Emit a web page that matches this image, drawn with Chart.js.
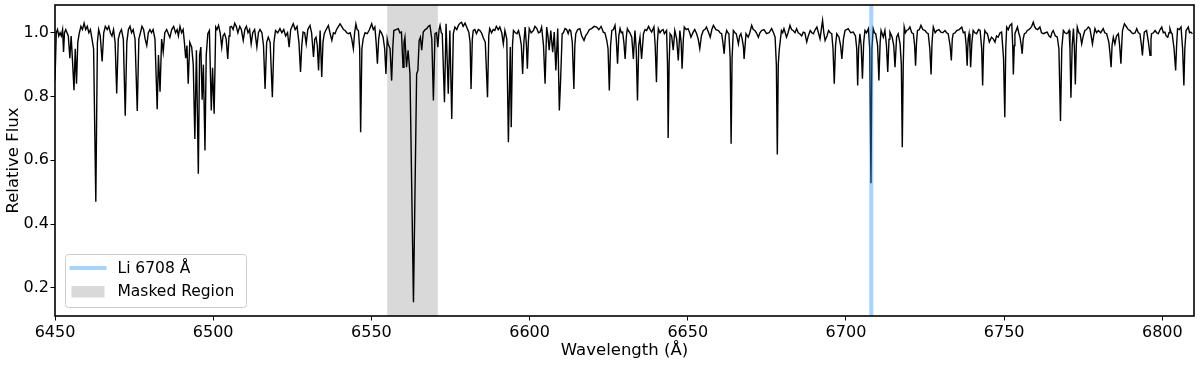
<!DOCTYPE html>
<html>
<head>
<meta charset="utf-8">
<script src="https://cdn.jsdelivr.net/npm/chart.js@4.4.1/dist/chart.umd.min.js"></script>
<style>
  html, body { margin: 0; padding: 0; background: #fff; }
  #spectrum { display: block; }
</style>
</head>
<body>
<canvas id="spectrum" width="1200" height="366"></canvas>
<script>
// [wavelength (Å), relative flux]
const spectrum = [
  [6450.0,0.85],[6450.4,1.00],[6450.8,1.01],[6451.2,0.99],[6451.6,1.00],[6452.0,0.99],[6452.4,1.01],[6452.7,0.94],
  [6453.0,1.00],[6453.4,1.01],[6453.8,1.00],[6454.2,0.99],[6454.7,0.92],[6455.1,0.99],[6455.6,0.90],[6456.0,0.82],
  [6456.4,0.95],[6456.8,0.84],[6457.2,0.97],[6457.7,1.00],[6458.2,1.02],[6458.7,1.01],[6459.2,1.03],[6459.7,1.01],
  [6460.2,1.02],[6460.7,1.00],[6461.2,1.01],[6461.7,0.98],[6462.2,0.95],[6462.9,0.47],[6463.4,0.97],[6463.8,1.01],
  [6464.3,0.99],[6464.9,0.91],[6465.4,1.00],[6465.9,1.02],[6466.5,1.01],[6467.0,1.02],[6467.5,1.00],[6468.0,0.99],
  [6468.5,1.01],[6469.0,0.97],[6469.5,0.81],[6470.0,0.98],[6470.5,1.00],[6471.0,1.01],[6471.6,0.98],[6472.2,0.74],
  [6472.7,0.97],[6473.2,1.01],[6473.7,1.02],[6474.2,1.00],[6474.7,1.01],[6475.3,0.98],[6476.0,0.755],[6476.5,0.98],
  [6477.0,1.00],[6477.5,1.02],[6478.0,1.01],[6478.5,0.98],[6479.0,0.96],[6479.5,1.00],[6480.0,1.01],[6480.5,1.00],
  [6481.0,1.01],[6481.6,0.98],[6482.3,0.76],[6482.7,0.93],[6483.2,0.815],[6483.7,0.98],[6484.2,0.94],[6484.7,1.00],
  [6485.3,1.01],[6485.7,1.00],[6486.3,0.985],[6486.9,1.01],[6487.5,1.02],[6488.1,1.00],[6488.6,1.01],[6489.0,0.99],
  [6489.5,1.02],[6490.0,1.00],[6490.5,1.01],[6490.9,0.97],[6491.3,0.92],[6491.7,0.96],[6492.1,0.84],[6492.6,0.97],
  [6493.2,0.955],[6493.7,0.90],[6494.2,0.667],[6494.7,0.945],[6495.3,0.558],[6495.7,0.93],[6496.1,0.955],[6496.5,0.79],
  [6496.9,0.90],[6497.4,0.631],[6497.8,0.93],[6498.3,0.997],[6498.8,1.007],[6499.4,0.756],[6499.8,0.89],[6500.3,0.746],
  [6500.8,1.018],[6501.2,1.01],[6501.7,1.023],[6502.2,1.00],[6502.7,0.955],[6503.1,0.99],[6503.6,0.997],[6504.1,0.98],
  [6504.6,0.918],[6505.0,0.99],[6505.3,1.018],[6505.8,1.02],[6506.3,1.01],[6506.8,1.03],[6507.3,1.02],[6507.8,1.00],
  [6508.4,1.02],[6508.9,1.01],[6509.5,0.976],[6510.0,1.01],[6510.5,1.02],[6511.0,1.00],[6511.5,1.01],[6512.0,0.965],
  [6512.5,1.00],[6513.1,1.01],[6513.8,0.955],[6514.3,1.00],[6514.8,1.01],[6515.4,1.00],[6515.9,0.96],[6516.4,0.824],
  [6516.9,0.97],[6517.4,0.986],[6518.0,0.97],[6518.7,0.798],[6519.2,0.97],[6519.7,1.007],[6520.4,1.00],[6521.1,1.013],
  [6521.7,1.00],[6522.3,1.01],[6522.9,0.99],[6523.5,1.00],[6524.0,0.955],[6524.5,1.01],[6525.3,1.028],[6525.9,1.01],
  [6526.5,1.02],[6527.1,0.97],[6527.6,0.877],[6528.0,0.96],[6528.4,1.002],[6528.9,1.00],[6529.4,0.965],[6529.9,1.01],
  [6530.6,1.023],[6531.1,1.00],[6531.7,0.924],[6532.1,0.98],[6532.5,0.986],[6532.9,0.96],[6533.3,0.882],[6533.8,1.007],
  [6534.3,0.861],[6534.7,0.97],[6535.1,0.997],[6535.7,1.01],[6536.4,1.023],[6536.9,1.00],[6537.5,0.976],[6538.0,1.00],
  [6538.5,0.997],[6539.0,1.01],[6539.6,1.02],[6540.1,1.028],[6540.6,1.02],[6541.2,1.01],[6541.7,1.007],[6542.2,1.00],
  [6542.7,0.997],[6543.3,1.00],[6543.8,0.98],[6544.3,0.95],[6544.7,1.00],[6545.1,1.028],[6545.5,1.01],[6545.9,1.007],
  [6546.3,0.95],[6546.6,0.688],[6547.0,0.95],[6547.4,0.981],[6548.0,1.00],[6548.7,0.997],[6549.4,1.01],[6550.1,1.028],
  [6550.6,1.01],[6551.1,1.018],[6551.5,0.97],[6551.9,0.903],[6552.3,0.98],[6552.7,1.007],[6553.2,1.00],[6553.7,0.986],
  [6554.2,0.95],[6554.6,0.871],[6555.0,0.98],[6555.3,0.965],[6555.9,0.95],[6556.4,0.85],[6556.8,0.96],[6557.1,1.007],
  [6557.8,1.01],[6558.5,1.013],[6559.0,1.00],[6559.5,1.002],[6560.0,0.892],[6560.3,0.97],[6560.6,0.986],[6561.1,0.892],
  [6561.6,0.945],[6562.2,0.871],[6563.3,0.155],[6564.3,0.871],[6564.7,0.882],[6565.1,0.976],[6565.5,0.986],[6565.9,0.945],
  [6566.4,1.002],[6567.0,1.01],[6567.5,1.013],[6568.0,1.02],[6568.5,1.023],[6569.1,0.98],[6569.6,0.788],[6570.1,0.997],
  [6570.6,1.00],[6571.0,0.955],[6571.4,1.01],[6571.7,1.023],[6572.1,1.00],[6572.4,0.997],[6573.1,0.782],[6573.6,1.028],
  [6574.3,0.809],[6574.8,1.007],[6575.4,0.73],[6575.9,0.997],[6576.4,1.018],[6577.0,1.01],[6577.5,1.023],[6578.0,1.03],
  [6578.5,1.033],[6579.0,1.02],[6579.6,1.03],[6580.1,1.018],[6580.8,1.002],[6581.2,0.97],[6581.5,0.824],[6581.9,0.98],
  [6582.2,1.007],[6582.7,1.01],[6583.2,0.997],[6583.8,1.01],[6584.3,1.007],[6584.8,1.00],[6585.3,0.986],[6586.0,0.97],
  [6586.7,0.798],[6587.1,0.99],[6587.4,1.013],[6588.0,1.00],[6588.5,1.01],[6589.0,1.007],[6589.5,1.02],[6590.1,1.01],
  [6590.6,1.018],[6591.2,1.00],[6591.7,0.965],[6592.2,1.007],[6592.8,0.98],[6593.3,0.657],[6593.9,0.955],[6594.2,0.704],
  [6594.6,0.96],[6594.9,1.007],[6595.5,1.00],[6596.0,0.997],[6596.5,1.007],[6597.0,0.986],[6597.4,0.96],[6597.8,0.871],
  [6598.2,0.97],[6598.6,1.018],[6599.0,0.96],[6599.3,0.887],[6599.6,0.97],[6599.9,1.013],[6600.5,1.00],[6601.2,1.007],
  [6601.7,1.02],[6602.3,1.013],[6602.8,1.00],[6603.3,1.002],[6603.8,1.018],[6604.4,0.96],[6604.9,0.84],[6605.4,1.018],
  [6605.8,0.99],[6606.2,0.945],[6606.7,1.007],[6607.3,0.939],[6607.8,1.002],[6608.3,0.882],[6608.9,1.013],[6609.4,0.756],
  [6609.8,0.85],[6610.3,0.997],[6610.7,1.00],[6611.2,1.013],[6611.7,1.01],[6612.2,0.997],[6612.6,1.01],[6613.0,1.007],
  [6613.5,0.97],[6614.0,0.824],[6614.3,0.96],[6614.6,0.997],[6615.2,1.01],[6615.9,1.013],[6616.5,0.99],[6617.2,0.976],
  [6617.7,0.99],[6618.2,0.997],[6618.9,1.01],[6619.6,1.013],[6620.4,1.02],[6621.2,1.018],[6621.9,1.01],[6622.6,1.02],
  [6623.3,1.002],[6623.8,1.00],[6624.4,0.976],[6624.8,0.95],[6625.2,0.819],[6625.6,0.96],[6626.0,1.007],[6626.5,1.01],
  [6627.0,1.023],[6627.4,0.98],[6627.8,0.903],[6628.2,0.99],[6628.6,1.013],[6629.0,1.00],[6629.4,1.002],[6629.8,0.97],
  [6630.2,0.918],[6630.6,0.99],[6630.9,1.013],[6631.2,1.007],[6631.7,1.00],[6632.3,0.986],[6632.8,0.918],[6633.3,1.007],
  [6633.7,0.95],[6634.1,0.788],[6634.5,0.96],[6634.9,0.986],[6635.4,0.918],[6636.0,0.997],[6636.5,1.01],[6637.0,1.007],
  [6637.6,1.02],[6638.1,1.01],[6638.6,1.002],[6639.3,1.018],[6639.7,0.96],[6640.1,0.845],[6640.4,0.97],[6640.7,1.013],
  [6641.2,1.00],[6641.7,1.007],[6642.2,1.01],[6642.6,0.997],[6643.3,1.007],[6643.6,0.90],[6643.8,0.67],[6644.1,0.90],
  [6644.4,0.997],[6644.9,0.99],[6645.4,0.945],[6645.9,1.007],[6646.5,0.98],[6647.0,0.913],[6647.5,1.007],[6647.9,0.97],
  [6648.2,0.887],[6648.6,0.98],[6648.9,1.018],[6649.5,1.01],[6650.1,1.013],[6650.6,1.00],[6651.0,0.986],[6651.7,1.002],
  [6652.2,1.01],[6652.8,0.997],[6653.3,0.98],[6653.8,0.95],[6654.3,0.99],[6654.9,1.007],[6655.4,1.01],[6655.9,1.018],
  [6656.6,1.00],[6657.1,0.986],[6657.6,1.01],[6658.1,1.023],[6658.9,1.01],[6659.7,1.007],[6660.2,1.00],[6660.7,0.997],
  [6661.1,0.97],[6661.5,0.934],[6661.9,0.99],[6662.3,1.007],[6662.7,1.00],[6663.0,0.997],[6663.4,0.92],[6663.7,0.652],
  [6664.0,0.92],[6664.4,1.007],[6664.9,1.00],[6665.3,0.997],[6665.7,0.98],[6666.0,0.965],[6666.4,0.99],[6666.8,0.997],
  [6667.2,0.98],[6667.6,0.955],[6667.8,0.918],[6668.4,0.997],[6669.1,0.986],[6669.6,1.00],[6670.2,1.023],[6670.7,1.01],
  [6671.2,1.007],[6671.7,1.00],[6672.3,0.986],[6672.8,1.00],[6673.3,1.007],[6674.1,1.01],[6674.9,0.997],[6675.7,1.00],
  [6676.5,1.013],[6677.1,1.00],[6677.6,0.986],[6678.0,0.90],[6678.3,0.618],[6678.6,0.90],[6678.9,0.945],[6679.6,1.007],
  [6680.0,1.00],[6680.4,1.013],[6680.8,1.00],[6681.2,0.986],[6681.7,1.00],[6682.3,1.023],[6682.8,1.01],[6683.3,1.007],
  [6683.9,1.00],[6684.4,1.013],[6684.9,1.00],[6685.4,0.997],[6686.0,0.99],[6686.5,1.002],[6687.0,1.00],[6687.6,0.971],
  [6688.1,0.99],[6688.7,1.007],[6689.2,1.00],[6689.7,0.997],[6690.3,1.01],[6690.8,1.018],[6691.3,1.00],[6691.8,0.981],
  [6692.2,1.01],[6692.6,1.039],[6693.0,1.00],[6693.4,0.976],[6694.0,0.99],[6694.5,1.007],[6695.0,1.00],[6695.5,0.997],
  [6695.9,0.95],[6696.3,0.84],[6696.7,0.96],[6697.1,0.997],[6697.8,0.986],[6698.3,0.96],[6698.7,0.918],[6699.2,0.98],
  [6699.7,1.007],[6700.2,1.01],[6700.7,1.013],[6701.5,1.00],[6702.3,1.002],[6703.0,0.99],[6703.4,0.95],[6703.7,0.835],
  [6704.0,0.95],[6704.4,0.997],[6704.8,0.96],[6705.2,0.856],[6705.6,0.97],[6706.0,1.007],[6706.5,1.00],[6707.1,1.013],
  [6707.5,0.95],[6707.9,0.528],[6708.2,0.95],[6708.6,1.013],[6709.0,1.00],[6709.4,0.997],[6710.0,0.96],[6710.4,0.85],
  [6710.8,0.97],[6711.1,1.007],[6711.8,0.986],[6712.3,1.007],[6712.8,0.96],[6713.2,0.877],[6713.6,0.98],[6713.9,1.002],
  [6714.6,0.986],[6715.1,0.96],[6715.5,0.892],[6716.0,0.986],[6716.5,0.997],[6717.1,0.965],[6717.5,0.90],[6717.8,0.641],
  [6718.1,0.90],[6718.4,1.018],[6718.8,1.00],[6719.2,1.007],[6719.7,1.01],[6720.2,1.018],[6720.8,1.00],[6721.3,0.997],
  [6721.7,0.96],[6722.0,0.897],[6722.3,0.97],[6722.6,1.007],[6723.2,1.01],[6723.7,1.023],[6724.3,1.01],[6725.0,1.007],
  [6725.5,1.00],[6726.0,0.997],[6726.5,0.95],[6726.9,0.869],[6727.2,0.97],[6727.6,1.018],[6728.2,1.00],[6728.7,1.007],
  [6729.4,1.01],[6730.0,1.002],[6730.6,1.00],[6731.3,1.007],[6731.8,1.00],[6732.3,0.997],[6732.9,0.96],[6733.3,0.913],
  [6733.6,0.98],[6733.9,0.997],[6734.5,1.00],[6735.0,1.007],[6735.8,1.01],[6736.6,1.018],[6737.1,1.00],[6737.6,1.002],
  [6738.0,0.96],[6738.3,0.897],[6738.6,0.98],[6738.9,0.997],[6739.2,0.95],[6739.4,0.892],[6739.8,0.97],[6740.2,1.007],
  [6740.7,1.00],[6741.3,0.997],[6741.9,1.01],[6742.4,1.007],[6742.9,0.95],[6743.2,0.835],[6743.5,0.96],[6743.9,1.007],
  [6744.3,1.00],[6744.7,0.997],[6745.3,0.971],[6746.0,0.986],[6746.6,0.98],[6747.1,0.971],[6747.6,0.99],[6748.1,0.986],
  [6748.7,1.00],[6749.2,1.002],[6749.8,0.92],[6750.2,0.735],[6750.5,0.95],[6750.8,1.018],[6751.3,1.01],[6751.8,1.023],
  [6752.4,1.028],[6752.7,0.96],[6752.9,0.869],[6753.2,0.96],[6753.4,0.997],[6754.2,1.018],[6754.6,1.00],[6755.0,0.986],
  [6755.4,0.96],[6755.7,0.934],[6756.0,0.98],[6756.4,0.997],[6756.9,1.00],[6757.3,1.007],[6757.8,1.01],[6758.2,1.013],
  [6758.7,1.02],[6759.2,1.033],[6759.6,1.02],[6760.0,1.013],[6760.6,1.01],[6761.3,1.018],[6761.8,1.00],[6762.4,0.997],
  [6763.0,1.00],[6763.6,1.002],[6764.2,0.99],[6764.7,0.986],[6765.1,1.00],[6765.5,1.007],[6766.2,0.99],[6766.8,0.986],
  [6767.3,0.95],[6767.8,0.723],[6768.2,0.95],[6768.7,1.007],[6769.2,1.00],[6769.7,0.997],[6770.1,1.00],[6770.5,1.007],
  [6770.8,0.95],[6771.1,0.796],[6771.5,0.96],[6771.9,1.013],[6772.2,0.95],[6772.5,0.838],[6772.8,0.96],[6773.1,1.018],
  [6773.6,1.00],[6774.0,0.997],[6774.5,0.965],[6775.0,0.99],[6775.5,1.007],[6776.0,1.01],[6776.6,1.018],[6777.1,1.013],
  [6777.5,0.99],[6777.9,0.965],[6778.3,0.99],[6778.7,1.013],[6779.2,1.00],[6779.8,1.007],[6780.5,1.00],[6781.3,1.013],
  [6781.8,1.00],[6782.4,0.997],[6783.1,0.97],[6783.5,0.93],[6783.8,0.892],[6784.1,0.96],[6784.5,0.986],[6785.0,0.965],
  [6785.5,0.99],[6786.1,0.997],[6786.5,0.96],[6786.9,0.903],[6787.2,0.97],[6787.4,1.007],[6788.0,1.028],[6788.7,1.018],
  [6789.2,1.01],[6789.8,1.007],[6790.3,1.00],[6790.8,0.997],[6791.4,1.00],[6791.9,1.013],[6792.4,1.00],[6792.9,0.997],
  [6793.4,0.96],[6793.7,0.929],[6794.0,0.97],[6794.3,1.002],[6795.0,1.007],[6795.6,0.97],[6796.1,0.929],[6796.4,0.98],
  [6796.6,0.997],[6797.2,1.00],[6797.7,1.007],[6798.2,1.00],[6798.7,0.997],[6799.3,1.01],[6799.8,1.018],[6800.3,1.00],
  [6800.8,1.002],[6801.2,0.99],[6801.7,0.986],[6802.1,1.00],[6802.4,1.013],[6802.8,1.00],[6803.1,0.997],[6803.7,0.95],
  [6804.2,0.882],[6804.5,0.96],[6804.8,1.013],[6805.3,1.01],[6805.9,1.018],[6806.4,0.95],[6806.8,0.835],[6807.1,0.95],
  [6807.5,1.007],[6808.2,1.018],[6808.6,1.00],[6809.0,1.002],[6809.5,0.997]
];

const xTicks = [6450, 6500, 6550, 6600, 6650, 6700, 6750, 6800];
const yTicks = [0.2, 0.4, 0.6, 0.8, 1.0];
const xRange = [6450, 6810];
const yRange = [0.112, 1.087];
const maskedRegion = [6555, 6571];
const liLine = 6708;
const legendLabels = ['Li 6708 Å', 'Masked Region'];

const liColor = 'rgba(30,144,255,0.4)';
const maskColor = 'rgba(128,128,128,0.3)';
const tickFont = { family: 'DejaVu Sans', size: 16 };
const titleFont = { family: 'DejaVu Sans', size: 16.5 };

// shaded mask, Li marker, frame and legend
const decor = {
  id: 'decor',
  beforeDraw(chart) {
    const ctx = chart.ctx;
    ctx.save();
    ctx.fillStyle = '#fff';
    ctx.fillRect(0, 0, chart.width, chart.height);
    ctx.restore();
  },
  beforeDatasetsDraw(chart) {
    const { ctx, chartArea: a, scales: { x } } = chart;
    const x0 = x.getPixelForValue(maskedRegion[0]);
    const x1 = x.getPixelForValue(maskedRegion[1]);
    ctx.save();
    ctx.fillStyle = maskColor;
    ctx.fillRect(x0, a.top, x1 - x0, a.bottom - a.top);
    ctx.restore();
  },
  afterDatasetsDraw(chart) {
    const { ctx, chartArea: a, scales: { x } } = chart;
    ctx.save();
    // Li line
    const lx = x.getPixelForValue(liLine);
    ctx.strokeStyle = liColor;
    ctx.lineWidth = 4;
    ctx.beginPath();
    ctx.moveTo(lx, a.top);
    ctx.lineTo(lx, a.bottom);
    ctx.stroke();

    // frame
    ctx.strokeStyle = '#000';
    ctx.lineWidth = 1.6;
    ctx.strokeRect(a.left, a.top, a.right - a.left, a.bottom - a.top);

    // legend
    const lx0 = a.left + 10.5, ly0 = a.bottom - 61.5, lw = 181, lh = 53;
    ctx.fillStyle = 'rgba(255,255,255,0.8)';
    ctx.strokeStyle = '#cccccc';
    ctx.lineWidth = 1;
    ctx.beginPath();
    ctx.roundRect(lx0, ly0, lw, lh, 3);
    ctx.fill();
    ctx.stroke();

    ctx.strokeStyle = liColor;
    ctx.lineWidth = 4;
    ctx.beginPath();
    ctx.moveTo(lx0 + 4, ly0 + 13.5);
    ctx.lineTo(lx0 + 41, ly0 + 13.5);
    ctx.stroke();

    ctx.fillStyle = maskColor;
    ctx.fillRect(lx0 + 6, ly0 + 31.5, 33, 11.5);

    ctx.fillStyle = '#000';
    ctx.font = '15.5px "DejaVu Sans"';
    ctx.textAlign = 'left';
    ctx.textBaseline = 'middle';
    ctx.fillText(legendLabels[0], lx0 + 52, ly0 + 14);
    ctx.fillText(legendLabels[1], lx0 + 52, ly0 + 37.5);
    ctx.restore();
  }
};

new Chart(document.getElementById('spectrum'), {
  type: 'line',
  data: {
    datasets: [{
      data: spectrum.map(p => ({ x: p[0], y: p[1] })),
      borderColor: '#000',
      borderWidth: 1.4,
      pointRadius: 0,
      tension: 0,
      fill: false
    }]
  },
  options: {
    responsive: false,
    animation: false,
    devicePixelRatio: 1,
    layout: { padding: { top: 5, right: 6, left: 0, bottom: 0 } },
    plugins: { legend: { display: false }, tooltip: { enabled: false } },
    scales: {
      x: {
        type: 'linear',
        min: xRange[0],
        max: xRange[1],
        afterBuildTicks: s => { s.ticks = xTicks.map(v => ({ value: v })); },
        afterFit: s => { s.height = 50; s.paddingLeft = 0; s.paddingRight = 0; },
        ticks: { font: tickFont, color: '#000', padding: 3, maxRotation: 0, autoSkip: false, callback: v => String(v) },
        grid: { display: true, drawOnChartArea: false, drawTicks: true, tickLength: 4.5, color: '#000' },
        border: { display: false },
        title: { display: true, text: 'Wavelength (Å)', font: titleFont, color: '#000', padding: { top: 0, bottom: 5 } }
      },
      y: {
        min: yRange[0],
        max: yRange[1],
        afterBuildTicks: s => { s.ticks = yTicks.map(v => ({ value: v })); },
        afterFit: s => { s.width = 55; s.paddingTop = 0; s.paddingBottom = 0; },
        ticks: { font: tickFont, color: '#000', padding: 1.5, callback: v => v.toFixed(1) },
        grid: { display: true, drawOnChartArea: false, drawTicks: true, tickLength: 4.5, color: '#000' },
        border: { display: false },
        title: { display: true, text: 'Relative Flux', font: titleFont, color: '#000', padding: { top: 4, bottom: 0 } }
      }
    }
  },
  plugins: [decor]
});
</script>
</body>
</html>
